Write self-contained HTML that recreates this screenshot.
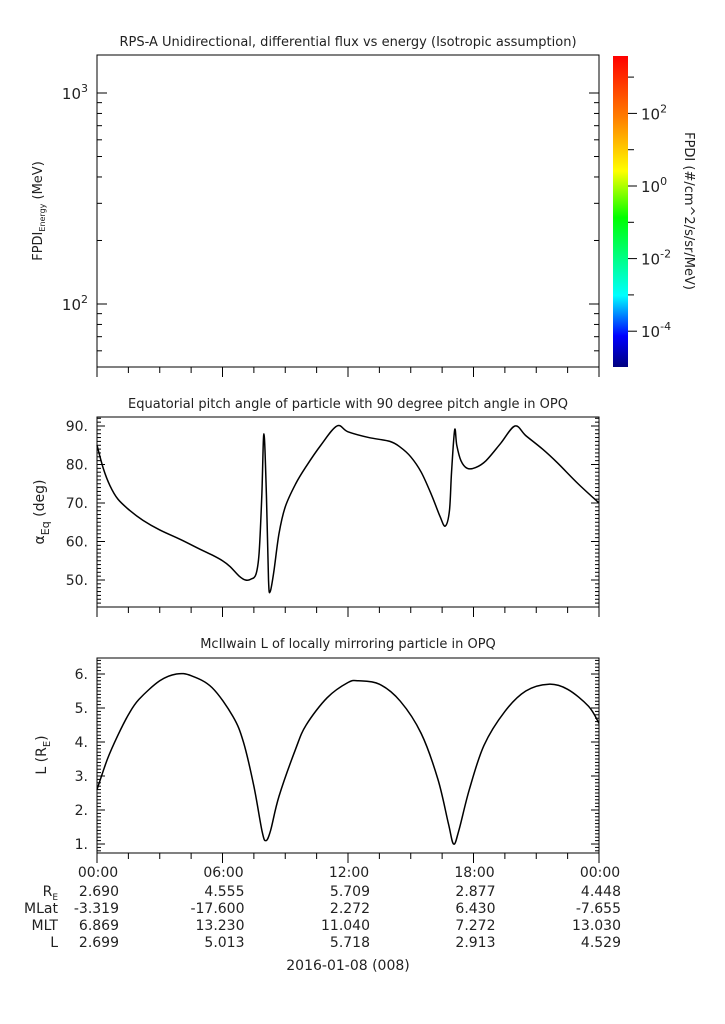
<!DOCTYPE html>
<html><head><meta charset="utf-8"><style>
body{margin:0;background:#fff;}
svg text{font-family:"DejaVu Sans","Liberation Sans",sans-serif;fill:#222;}
</style></head><body>
<svg id="c" width="725" height="1019" xmlns="http://www.w3.org/2000/svg">
<defs><linearGradient id="g" x1="0" y1="0" x2="0" y2="1">
<stop offset="0" stop-color="#ff0000"/><stop offset="0.2" stop-color="#ff8000"/><stop offset="0.37" stop-color="#ffff00"/><stop offset="0.52" stop-color="#00ff00"/><stop offset="0.77" stop-color="#00ffff"/><stop offset="0.9" stop-color="#0000ff"/><stop offset="1" stop-color="#00007f"/></linearGradient></defs>
</svg>
<script>
const hours=[0,6,12,18,24];
const hourLabels=["00:00","06:00","12:00","18:00","00:00"];
const pitchT=[0,0.3,0.62,1,1.58,2.2,3,4,4.92,5.5,6,6.36,6.8,7.1,7.35,7.6,7.75,7.88,7.98,8.1,8.2,8.28,8.45,8.7,9.0,9.5,10,10.7,11.47,12,13,14,14.5,15,15.5,16,16.4,16.65,16.85,16.95,17.1,17.2,17.4,17.7,18.1,18.6,19.3,19.98,20.5,21.3,22,23,24];
const pitchV=[85,79,74.5,71,68,65.5,63,60.5,58,56.5,55,53.5,51,50,50.2,51.5,57,72,88,72,50,47,52,62,69,75,79.5,85,90,88.5,87,86,84.5,82,78,72,66.5,64,68,78,89,85,81,79,79.2,81,85.5,90,87.5,84,80.5,75,70];
const lT=[0,0.5,1,1.5,2,3,3.8,4.5,5.5,6.5,7,7.5,7.9,8.08,8.3,8.7,9.5,10,11,12,12.5,13.5,14.5,15.5,16.3,16.8,17.05,17.3,17.8,18.5,19.5,20.5,21.6,22.5,23.5,24];
const lV=[2.6,3.5,4.2,4.8,5.25,5.8,6.0,5.95,5.6,4.75,4.0,2.7,1.35,1.1,1.4,2.4,3.8,4.5,5.3,5.75,5.8,5.7,5.2,4.25,2.9,1.6,1.0,1.4,2.6,3.9,4.9,5.5,5.7,5.55,5.05,4.55];
const pitchTicks=[50,60,70,80,90];
const lTicks=[1,2,3,4,5,6];
const ephemRows=["RE","MLat","MLT","L"];
const ephemVals=[["2.690","4.555","5.709","2.877","4.448"],["-3.319","-17.600","2.272","6.430","-7.655"],["6.869","13.230","11.040","7.272","13.030"],["2.699","5.013","5.718","2.913","4.529"]];
const NS="http://www.w3.org/2000/svg",svg=document.getElementById('c');
function el(t,a,txt){const e=document.createElementNS(NS,t);for(const k in a)e.setAttribute(k,a[k]);if(txt!==undefined)e.textContent=txt;svg.appendChild(e);return e;}
const X0=97,X1=599;const xs=h=>X0+(X1-X0)*h/24;
function smooth(P){let d='M'+P[0][0]+','+P[0][1];
for(let i=0;i<P.length-1;i++){const p0=P[Math.max(0,i-1)],p1=P[i],p2=P[i+1],p3=P[Math.min(P.length-1,i+2)];
d+=' C'+(p1[0]+(p2[0]-p0[0])/6)+','+(p1[1]+(p2[1]-p0[1])/6)+' '+(p2[0]-(p3[0]-p1[0])/6)+','+(p2[1]-(p3[1]-p1[1])/6)+' '+p2[0]+','+p2[1];}return d;}
function frame(y0,y1,name){const r=el('rect',{x:X0,y:y0,width:X1-X0,height:y1-y0,fill:'none',stroke:'#000','stroke-width':1});
for(let h=0;h<=24;h+=1.5){const L=(h%6===0)?10:6;el('line',{x1:xs(h),x2:xs(h),y1:y1,y2:y1+L,stroke:'#000'});}}
function title(t,y,name){const e=el('text',{x:348,y:y,'text-anchor':'middle','font-size':13},t);}
title("RPS-A Unidirectional, differential flux vs energy (Isotropic assumption)",46,'panel1-title');
frame(55,367,'flux-plot-area');
const ly=v=>93-211*(Math.log10(v)-3);
for(let d=1;d<=3;d++)for(let m=1;m<10;m++){const v=m*Math.pow(10,d);const y=ly(v);if(y<55||y>367)continue;const L=m===1?10:5;el('line',{x1:X0,x2:X0+L,y1:y,y2:y,stroke:'#000'});el('line',{x1:X1,x2:X1-L,y1:y,y2:y,stroke:'#000'});}
[2,3].forEach(d=>{const t=el('text',{x:88,y:ly(Math.pow(10,d))+6,'text-anchor':'end','font-size':15});t.innerHTML='10<tspan dy="-7" font-size="11">'+d+'</tspan>';});
{const t=el('text',{transform:'translate(42,211) rotate(-90)','text-anchor':'middle','font-size':13});t.innerHTML='FPDI<tspan font-size="8" dy="3">Energy</tspan><tspan dy="-3"> (MeV)</tspan>';}
{const r=el('rect',{x:613,y:56,width:15,height:311,fill:'url(#g)'});}
const cy=e=>186-36.3*e;
for(let e=-4;e<=3;e++){const y=cy(e);el('line',{x1:628,x2:(e%2===0)?637:634,y1:y,y2:y,stroke:'#000'});if(e%2===0){const t=el('text',{x:641,y:y+6,'font-size':15});t.innerHTML='10<tspan dy="-7" font-size="11">'+e+'</tspan>';}}
{const t=el('text',{transform:'translate(685,211) rotate(90)','text-anchor':'middle','font-size':13},'FPDI (#/cm^2/s/sr/MeV)');}
title("Equatorial pitch angle of particle with 90 degree pitch angle in OPQ",408,'panel2-title');
frame(417,607,'pitch-plot-area');
const py=v=>426+(90-v)*3.85;
for(let v=44;v<=92;v++){const y=py(v);if(y<417||y>607)continue;const L=v%10===0?8:4;el('line',{x1:X0,x2:X0+L,y1:y,y2:y,stroke:'#000'});el('line',{x1:X1,x2:X1-L,y1:y,y2:y,stroke:'#000'});}
pitchTicks.forEach(v=>{const t=el('text',{x:88,y:py(v)+5,'text-anchor':'end','font-size':14},v+'.');});
{const t=el('text',{transform:'translate(44,512) rotate(-90)','text-anchor':'middle','font-size':14});t.innerHTML='α<tspan font-size="11" dy="5">Eq</tspan><tspan dy="-5"> (deg)</tspan>';}
{const p=el('path',{d:smooth(pitchT.map((t,i)=>[xs(t),py(pitchV[i])])),fill:'none',stroke:'#000','stroke-width':1.5,'stroke-linejoin':'round'});}
title("McIlwain L of locally mirroring particle in OPQ",648,'panel3-title');
frame(658,853,'lshell-plot-area');
const qy=v=>844-(v-1)*34;
for(let v=0.8;v<=6.45;v+=0.1){const y=qy(v);if(y<658||y>853)continue;const L=Math.abs(v-Math.round(v))<0.01?8:4;el('line',{x1:X0,x2:X0+L,y1:y,y2:y,stroke:'#000'});el('line',{x1:X1,x2:X1-L,y1:y,y2:y,stroke:'#000'});}
lTicks.forEach(v=>{const t=el('text',{x:88,y:qy(v)+5,'text-anchor':'end','font-size':14},v+'.');});
{const t=el('text',{transform:'translate(46,755) rotate(-90)','text-anchor':'middle','font-size':14});t.innerHTML='L (R<tspan font-size="10" dy="4">E</tspan><tspan dy="-4">)</tspan>';}
{const p=el('path',{d:smooth(lT.map((t,i)=>[xs(t),qy(lV[i])])),fill:'none',stroke:'#000','stroke-width':1.5});}
hours.forEach((h,i)=>{const t=el('text',{x:xs(h)+1,y:877,'text-anchor':'middle','font-size':14},hourLabels[i]);});
ephemRows.forEach((r,j)=>{const y=896+j*17;const t=el('text',{x:58,y:y,'text-anchor':'end','font-size':14});if(r==='RE')t.innerHTML='R<tspan font-size="9" dy="4">E</tspan>';else t.textContent=r;
ephemVals[j].forEach((v,i)=>{const u=el('text',{x:xs(hours[i])+22,y:y,'text-anchor':'end','font-size':14},v);});});
{const t=el('text',{x:348,y:970,'text-anchor':'middle','font-size':14},'2016-01-08 (008)');}
</script>
</body></html>
